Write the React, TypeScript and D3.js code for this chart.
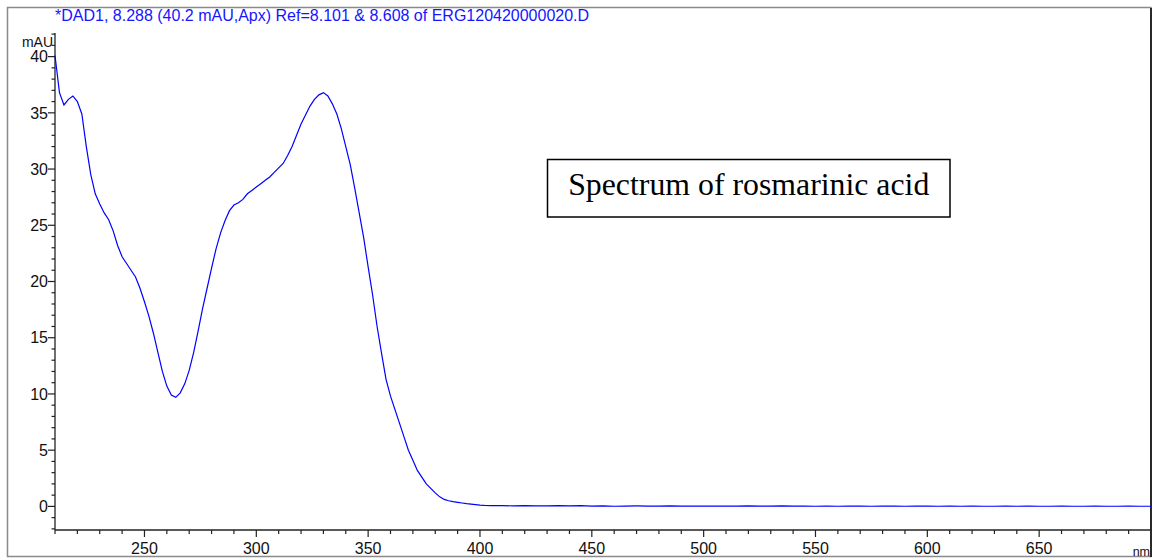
import React from "react";
import * as d3 from "d3";

const wavelengths: number[] = [
  210, 212, 214, 216, 218, 220, 222, 224, 226, 228, 230, 232, 234, 236, 238, 240,
  242, 244, 246, 248, 250, 252, 254, 256, 258, 260, 262, 264, 266, 268, 270, 272,
  274, 276, 278, 280, 282, 284, 286, 288, 290, 292, 294, 296, 298, 300, 302, 304,
  306, 308, 310, 312, 314, 316, 318, 320, 322, 324, 326, 328, 330, 332, 334, 336,
  338, 340, 342, 344, 346, 348, 350, 352, 354, 356, 358, 360, 362, 364, 366, 368,
  370, 372, 374, 376, 378, 380, 382, 384, 386, 388, 390, 392, 394, 396, 398, 400,
  402, 405, 410, 415, 420, 425, 430, 435, 440, 445, 450, 455, 460, 465, 470, 475,
  480, 485, 490, 495, 500, 505, 510, 515, 520, 525, 530, 535, 540, 545, 550, 555,
  560, 565, 570, 575, 580, 585, 590, 595, 600, 605, 610, 615, 620, 625, 630, 635,
  640, 645, 650, 655, 660, 665, 670, 675, 680, 685, 690, 695, 700,
];

const absorbance: number[] = [
  40.1, 36.8, 35.7, 36.2, 36.5, 36.0, 34.9, 32.0, 29.5, 27.8, 26.9, 26.1, 25.5, 24.5, 23.2, 22.2,
  21.6, 21.0, 20.4, 19.4, 18.2, 16.9, 15.4, 13.7, 12.0, 10.7, 9.9, 9.7, 10.1, 10.9, 12.1, 13.7,
  15.6, 17.6, 19.4, 21.2, 22.9, 24.3, 25.4, 26.3, 26.8, 27.0, 27.3, 27.8, 28.1, 28.4, 28.7, 29.0,
  29.3, 29.7, 30.1, 30.5, 31.2, 32.0, 33.0, 34.0, 34.8, 35.6, 36.2, 36.6, 36.8, 36.5, 35.8, 34.9,
  33.6, 32.0, 30.4, 28.3, 26.1, 23.9, 21.3, 18.8, 16.0, 13.6, 11.3, 9.8, 8.6, 7.4, 6.2, 5.0,
  4.1, 3.2, 2.6, 2.0, 1.6, 1.2, 0.85, 0.62, 0.5, 0.42, 0.36, 0.3, 0.24, 0.2, 0.16, 0.12,
  0.09, 0.07, 0.06, 0.05, 0.07, 0.05, 0.05, 0.06, 0.04, 0.06, 0.03, 0.05, 0.01, 0.03, 0.04, 0.03,
  0.03, 0.04, 0.02, 0.02, 0.03, 0.02, 0.03, 0.02, 0.05, 0.02, 0.03, 0.05, 0.02, 0.02, 0.01, 0.02,
  0.01, 0.02, 0.02, 0.01, 0.02, 0.02, 0.01, 0.02, 0.02, 0.01, 0.02, 0.01, 0.02, 0.01, 0.01, 0.02,
  0.01, 0.02, 0.01, 0.01, 0.02, 0.01, 0.01, 0.02, 0.01, 0.01, 0.02, 0.01, 0.01,
];

const xMajorTicks: number[] = [250, 300, 350, 400, 450, 500, 550, 600, 650];
const yMajorTicks: number[] = [0, 5, 10, 15, 20, 25, 30, 35, 40];

const titleText = "*DAD1, 8.288 (40.2 mAU,Apx) Ref=8.101 & 8.608 of ERG120420000020.D";
const boxText = "Spectrum of rosmarinic acid";
const yUnit = "mAU";
const xUnit = "nm";

export default function App() {
  const W = 1160;
  const H = 558;
  const left = 55;
  const right = 1151;
  const top = 33;
  const bottom = 530;

  const x = d3.scaleLinear().domain([210, 700]).range([left, right]);
  const y = d3.scaleLinear().domain([-2.1, 42.1]).range([bottom, top]);

  const data = wavelengths.map((w, i) => [w, absorbance[i]] as [number, number]);
  const line = d3
    .line<[number, number]>()
    .x((d) => x(d[0]))
    .y((d) => y(d[1]))
    .curve(d3.curveLinear);

  const xMinor = d3.range(210, 701, 10).filter((v) => v % 50 !== 0);
  const yMinor = d3.range(-2, 43, 1).filter((v) => v % 5 !== 0);

  const axisColor = "#222";
  const font = "Arial, 'Liberation Sans', sans-serif";

  return (
    <svg
      width={W}
      height={H}
      style={{ position: "absolute", left: 0, top: 0, background: "#fff" }}
    >
      {/* outer frame */}
      <rect x={7.5} y={7.5} width={1143.5} height={549} fill="none" stroke="#8a8a8a" strokeWidth={1.5} />
      <line x1={right} x2={right} y1={8} y2={557} stroke="#000" strokeWidth={1.5} />

      {/* title */}
      <text x={55} y={21} fill="#1515ff" fontFamily={font} fontSize={16}>
        {titleText}
      </text>

      {/* y axis */}
      <line x1={left} x2={left} y1={top} y2={bottom} stroke={axisColor} strokeWidth={1.3} />
      {yMajorTicks.map((t) => (
        <g key={"ym" + t}>
          <line x1={left - 7} x2={left} y1={y(t)} y2={y(t)} stroke={axisColor} strokeWidth={1.2} />
          <text
            x={left - 7}
            y={y(t)}
            dy="0.36em"
            textAnchor="end"
            fontFamily={font}
            fontSize={16}
            fill="#111"
          >
            {t}
          </text>
        </g>
      ))}
      {yMinor.map((t) => (
        <line key={"yn" + t} x1={left - 3.5} x2={left} y1={y(t)} y2={y(t)} stroke={axisColor} strokeWidth={1.2} />
      ))}
      <text x={left - 2} y={47} textAnchor="end" fontFamily={font} fontSize={14} fill="#111">
        {yUnit}
      </text>

      {/* x axis */}
      <line x1={left} x2={right} y1={bottom} y2={bottom} stroke={axisColor} strokeWidth={1.3} />
      {xMajorTicks.map((t) => (
        <g key={"xm" + t}>
          <line x1={x(t)} x2={x(t)} y1={bottom} y2={bottom + 7} stroke={axisColor} strokeWidth={1.2} />
          <text x={x(t)} y={553.5} textAnchor="middle" fontFamily={font} fontSize={16} fill="#111">
            {t}
          </text>
        </g>
      ))}
      {xMinor.map((t) => (
        <line key={"xn" + t} x1={x(t)} x2={x(t)} y1={bottom} y2={bottom + 4} stroke={axisColor} strokeWidth={1.2} />
      ))}
      <text x={1150} y={556} textAnchor="end" fontFamily={font} fontSize={12.5} fill="#111">
        {xUnit}
      </text>

      {/* spectrum */}
      <path d={line(data) || ""} fill="none" stroke="#0000ff" strokeWidth={1.2} />

      {/* annotation box */}
      <rect x={547.5} y={159.5} width={402.5} height={57.5} fill="#fff" stroke="#000" strokeWidth={1.5} />
      <text
        x={748.75}
        y={194.5}
        textAnchor="middle"
        fontFamily="'Liberation Serif', 'Times New Roman', serif"
        fontSize={31.8}
        fill="#000"
      >
        {boxText}
      </text>
    </svg>
  );
}
